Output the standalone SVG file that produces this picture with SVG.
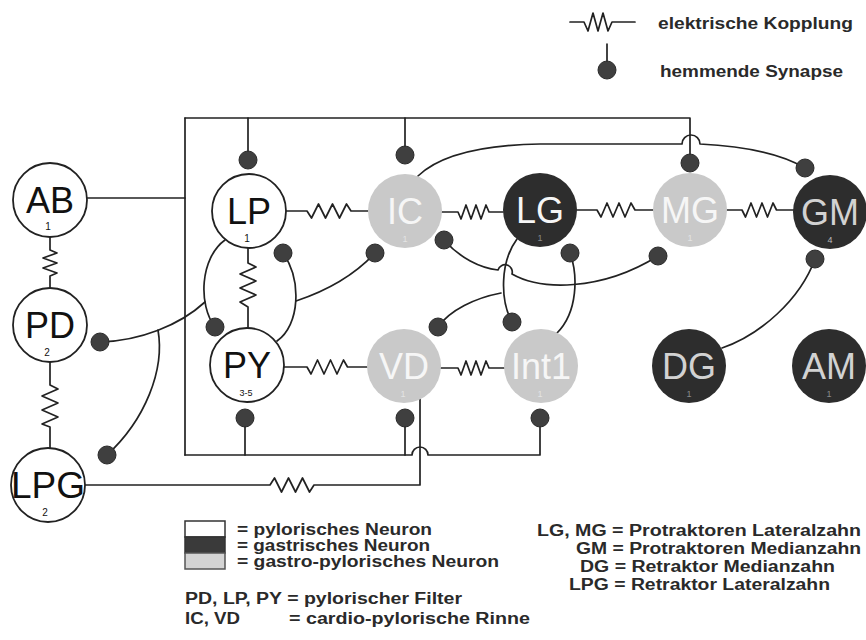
<svg xmlns="http://www.w3.org/2000/svg" width="866" height="640" viewBox="0 0 866 640">
<defs>
<style>
.ln{fill:none;stroke:#222;stroke-width:1.7;stroke-linejoin:round;stroke-linecap:round}
.syn{fill:#3f3f3f;stroke:#2a2a2a;stroke-width:1}
.pw{fill:#fff;stroke:#222;stroke-width:1.8}
.gp{fill:#c9c9c9}
.ga{fill:#2d2d2d}
.lab{font-family:"Liberation Sans",Arial,sans-serif;font-size:36px;text-anchor:middle}
.lw{fill:#111}
.lg{fill:#f6f6f6}
.ld{fill:#d2d2d2}
.sub{font-family:"Liberation Sans",Arial,sans-serif;font-size:10px;text-anchor:middle;fill:#111}
.fs{font-family:"Liberation Sans",Arial,sans-serif;font-size:9px;text-anchor:middle}
.leg{font-family:"Liberation Sans",Arial,sans-serif;font-weight:bold;font-size:16px;fill:#2a2a2a}
.legt{font-family:"Liberation Sans",Arial,sans-serif;font-weight:bold;font-size:17px;fill:#2a2a2a}
</style>
</defs>
<rect width="866" height="640" fill="#fff"/>

<g id="legend-top">
<path class="ln" d="M570,22 H584 l4,9 l5,-18 l5,18 l5,-18 l5,18 l4,-9 H635"/>
<text class="legt" x="658" y="29" textLength="195" lengthAdjust="spacingAndGlyphs">elektrische Kopplung</text>
<path class="ln" d="M607,44 V66"/>
<circle class="syn" cx="607" cy="70" r="9"/>
<text class="legt" x="660" y="77" textLength="183" lengthAdjust="spacingAndGlyphs">hemmende Synapse</text>
</g>

<g id="connectors">
<path class="ln" d="M87,198 H185"/>
<path class="ln" d="M185,118 V455"/>
<path class="ln" d="M185,118 H690 V160"/>
<path class="ln" d="M248,118 V158"/>
<path class="ln" d="M405,118 V153"/>
<path class="ln" d="M185,455 H412 A8,8 0 0 1 428,455 H540 V420"/>
<path class="ln" d="M245,455 V420"/>
<path class="ln" d="M405,455 V420"/>
<path class="ln" d="M50,237 V250 l7,3 l-14,5 l14,5 l-14,5 l14,5 l-7,3 V288"/>
<path class="ln" d="M50,362 V385 l8,4 l-16,7 l16,7 l-16,7 l16,7 l-16,7 l8,3 V448"/>
<path class="ln" d="M248,248 V263 l8,4 l-16,7 l16,7 l-16,7 l16,7 l-16,7 l8,5 V328"/>
<path class="ln" d="M286,211 H307 l4.5,7 l7,-14 l7,14 l7,-14 l7,14 l7,-14 l4.5,7 H368"/>
<path class="ln" d="M442,212 H458 l3,7 l5,-14 l5,14 l5,-14 l5,14 l5,-14 l3,7 H503"/>
<path class="ln" d="M577,210 H597 l4,7 l6,-14 l6,14 l6,-14 l6,14 l6,-14 l4,7 H653"/>
<path class="ln" d="M727,210 H742 l3.5,7 l5.5,-14 l5.5,14 l5.5,-14 l5.5,14 l5.5,-14 l3.5,7 H794"/>
<path class="ln" d="M284,367 H307 l4,7 l6.5,-14 l6.5,14 l6.5,-14 l6.5,14 l6.5,-14 l4,7 H367"/>
<path class="ln" d="M441,368 H458 l3,7 l5,-14 l5,14 l5,-14 l5,14 l5,-14 l3,7 H504"/>
<path class="ln" d="M85,485 H270 l4.5,-7 l7,14 l7,-14 l7,14 l7,-14 l7,14 l4.5,-7 H420 V399"/>
<path class="ln" d="M418,176 C440,155 480,145 540,144 L682,144 A9,9 0 0 1 700,144 C740,146 780,153 805,168"/>
<path class="ln" d="M444,240 C460,258 480,268 498,270 A7,7 0 0 1 512,274 C540,290 600,292 658,256"/>
<path class="ln" d="M517,239 C500,262 500,300 512,322"/>
<path class="ln" d="M501,293 C475,298 450,310 438,327"/>
<path class="ln" d="M557,333 C578,312 578,275 570,253"/>
<path class="ln" d="M722,348 C760,335 800,300 815,259"/>
<path class="ln" d="M225,240 C200,258 198,305 215,327"/>
<path class="ln" d="M277,341 C300,325 302,280 283,253"/>
<path class="ln" d="M375,253 C350,280 320,293 296,301"/>
<path class="ln" d="M100,342 C140,341 180,325 205,302"/>
<path class="ln" d="M158,330 C165,370 145,420 107,455"/>
<g>
<circle class="syn" cx="248" cy="160" r="9"/>
<circle class="syn" cx="405" cy="155" r="9"/>
<circle class="syn" cx="690" cy="163" r="9"/>
<circle class="syn" cx="805" cy="168" r="9"/>
<circle class="syn" cx="444" cy="240" r="9"/>
<circle class="syn" cx="658" cy="256" r="9"/>
<circle class="syn" cx="375" cy="253" r="9"/>
<circle class="syn" cx="570" cy="253" r="9"/>
<circle class="syn" cx="438" cy="327" r="9"/>
<circle class="syn" cx="512" cy="322" r="9"/>
<circle class="syn" cx="815" cy="259" r="9"/>
<circle class="syn" cx="283" cy="253" r="9"/>
<circle class="syn" cx="215" cy="327" r="9"/>
<circle class="syn" cx="100" cy="342" r="9"/>
<circle class="syn" cx="107" cy="455" r="9"/>
<circle class="syn" cx="245" cy="418" r="9"/>
<circle class="syn" cx="405" cy="418" r="9"/>
<circle class="syn" cx="540" cy="418" r="9"/>
</g>
</g>

<g id="AB"><circle class="pw" cx="50" cy="200" r="37"/><text class="lab lw" x="50" y="213">AB</text><text class="sub" x="48" y="230">1</text></g>
<g id="PD"><circle class="pw" cx="50" cy="325" r="37"/><text class="lab lw" x="50" y="338">PD</text><text class="sub" x="47" y="356">2</text></g>
<g id="LPG"><circle class="pw" cx="48" cy="485" r="37"/><text class="lab lw" x="48" y="498" textLength="74" lengthAdjust="spacingAndGlyphs">LPG</text><text class="sub" x="45" y="516">2</text></g>
<g id="LP"><circle class="pw" cx="249" cy="211" r="37"/><text class="lab lw" x="249" y="224">LP</text><text class="sub" x="247" y="242">1</text></g>
<g id="PY"><circle class="pw" cx="247" cy="365" r="37"/><text class="lab lw" x="247" y="378">PY</text><text class="sub" x="246" y="396" style="font-size:9px">3-5</text></g>
<g id="IC"><circle class="gp" cx="405" cy="211" r="37"/><text class="lab lg" x="405" y="224">IC</text><text class="fs" x="405" y="242" fill="#e4e4e4">1</text></g>
<g id="LG"><circle class="ga" cx="540" cy="210" r="37"/><text class="lab lg" x="540" y="223">LG</text><text class="fs" x="540" y="241" fill="#8a8a8a">1</text></g>
<g id="MG"><circle class="gp" cx="690" cy="210" r="37"/><text class="lab lg" x="690" y="223">MG</text><text class="fs" x="690" y="241" fill="#e4e4e4">1</text></g>
<g id="GM"><circle class="ga" cx="830" cy="212" r="37"/><text class="lab ld" x="830" y="225">GM</text><text class="fs" x="830" y="243" fill="#bbb">4</text></g>
<g id="VD"><circle class="gp" cx="404" cy="366" r="37"/><text class="lab lg" x="404" y="379">VD</text><text class="fs" x="403" y="397" fill="#e4e4e4">1</text></g>
<g id="Int1"><circle class="gp" cx="541" cy="366" r="37"/><text class="lab lg" x="541" y="379">Int1</text><text class="fs" x="540" y="397" fill="#e4e4e4">1</text></g>
<g id="DG"><circle class="ga" cx="689" cy="366" r="37"/><text class="lab ld" x="689" y="379">DG</text><text class="fs" x="689" y="397" fill="#8a8a8a">1</text></g>
<g id="AM"><circle class="ga" cx="829" cy="366" r="37"/><text class="lab ld" x="829" y="379">AM</text><text class="fs" x="829" y="397" fill="#8a8a8a">1</text></g>

<g id="legend-bottom">
<rect x="185" y="521" width="40" height="16" fill="#fff" stroke="#333" stroke-width="1.5"/>
<rect x="185" y="537" width="40" height="16" fill="#3a3a3a" stroke="#333" stroke-width="1.5"/>
<rect x="185" y="553" width="40" height="16" fill="#d4d4d4" stroke="#555" stroke-width="1.5"/>
<text class="leg" x="237" y="535" textLength="195" lengthAdjust="spacingAndGlyphs">= pylorisches Neuron</text>
<text class="leg" x="237" y="551" textLength="193" lengthAdjust="spacingAndGlyphs">= gastrisches Neuron</text>
<text class="leg" x="237" y="567" textLength="262" lengthAdjust="spacingAndGlyphs">= gastro-pylorisches Neuron</text>
<text class="leg" x="185" y="604" textLength="277" lengthAdjust="spacingAndGlyphs">PD, LP, PY = pylorischer Filter</text>
<text class="leg" x="185" y="624" textLength="55" lengthAdjust="spacingAndGlyphs">IC, VD</text>
<text class="leg" x="289" y="624" textLength="241" lengthAdjust="spacingAndGlyphs">= cardio-pylorische Rinne</text>
<text class="leg" x="537" y="536" textLength="324" lengthAdjust="spacingAndGlyphs">LG, MG = Protraktoren Lateralzahn</text>
<text class="leg" x="576" y="554" textLength="285" lengthAdjust="spacingAndGlyphs">GM = Protraktoren Medianzahn</text>
<text class="leg" x="580" y="572" textLength="255" lengthAdjust="spacingAndGlyphs">DG = Retraktor Medianzahn</text>
<text class="leg" x="569" y="590" textLength="261" lengthAdjust="spacingAndGlyphs">LPG = Retraktor Lateralzahn</text>
</g>
</svg>
